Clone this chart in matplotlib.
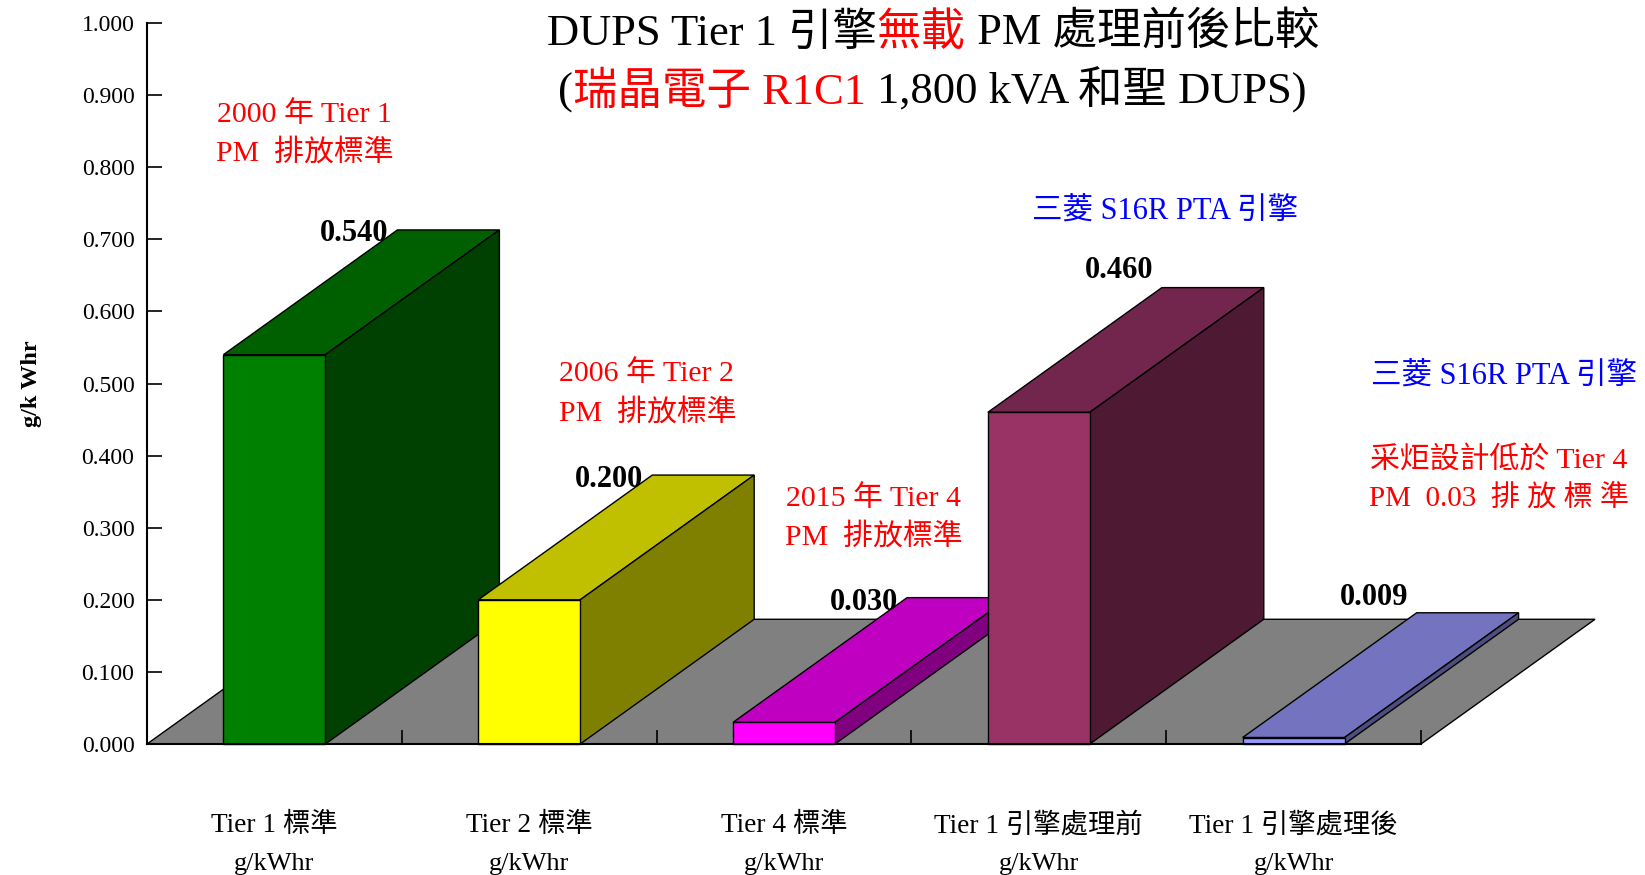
import matplotlib
matplotlib.use("Agg")
import matplotlib.pyplot as plt
from matplotlib.patches import Polygon

plt.rcParams['font.family'] = ['Liberation Serif', 'Noto Sans CJK TC', 'DejaVu Sans']

# data
values = [0.540, 0.200, 0.030, 0.460, 0.009]
value_labels = ["0.540", "0.200", "0.030", "0.460", "0.009"]
categories = ["Tier 1 標準", "Tier 2 標準", "Tier 4 標準", "Tier 1 引擎處理前", "Tier 1 引擎處理後"]
unit_label = "g/kWhr"
y_ticks = [0.0, 0.1, 0.2, 0.3, 0.4, 0.5, 0.6, 0.7, 0.8, 0.9, 1.0]
front_colors = ["#008000", "#ffff00", "#ff00ff", "#993366", "#9999ff"]
top_colors = ["#006000", "#c0c000", "#c000c0", "#73264d", "#7373bf"]
side_colors = ["#004000", "#808000", "#800080", "#4d1933", "#4d4d80"]

W, H = 1645, 875
S = 1645 / 1568   # reference was read at 1568 wide

fig = plt.figure(figsize=(W / 100, H / 100), dpi=100, facecolor="white")
ax = fig.add_axes([147 / W, (H - 744) / H, (1421 - 147) / W, (744 - 23) / H])
ax.set_xlim(0, 5)
ax.set_ylim(0, 1)

# 3d depth, in data units
dx = 0.683
dy = 0.173
bar_w = 0.4

# floor
ax.add_patch(Polygon([(0, 0), (5, 0), (5 + dx, dy), (dx, dy)], closed=True, fc="#808080",
                     ec="black", lw=1, clip_on=False, zorder=1))

# bars, left to right so the later ones cover the earlier ones
for i, v in enumerate(values):
    x0 = i + 0.5 - bar_w / 2
    x1 = x0 + bar_w
    z = 2 + i
    top = [(x0, v), (x1, v), (x1 + dx, v + dy), (x0 + dx, v + dy)]
    side = [(x1, 0), (x1 + dx, dy), (x1 + dx, v + dy), (x1, v)]
    front = [(x0, 0), (x1, 0), (x1, v), (x0, v)]
    for pts, col in [(top, top_colors[i]), (side, side_colors[i]), (front, front_colors[i])]:
        ax.add_patch(Polygon(pts, closed=True, fc=col, ec="black", lw=1, clip_on=False, zorder=z))

ax.spines['top'].set_visible(False)
ax.spines['right'].set_visible(False)
ax.spines['left'].set_linewidth(1.5)
ax.spines['bottom'].set_linewidth(1.5)
ax.spines['left'].set_zorder(20)
ax.spines['bottom'].set_zorder(20)
ax.set_yticks(y_ticks)
ax.set_yticklabels(["%.3f" % t for t in y_ticks], fontsize=17)
ax.set_xticks([1, 2, 3, 4, 5])
ax.set_xticklabels([])
ax.tick_params(axis='y', direction='in', length=11, width=1.2, pad=9)
ax.tick_params(axis='x', direction='in', length=10, width=1.2)


# everything below is placed in reference pixels (1568 wide picture)
def tx(x):
    return x * S / W


def ty(y):
    return 1 - y * S / H


def label(x, y, s, color="black", size=21.5, ha="left", **kw):
    return fig.text(tx(x), ty(y), s, color=color, fontsize=size, ha=ha, va="center", zorder=30, **kw)


def colored_line(x, y, parts, size):
    # pieces of one line in different colours, each starts where the last one stopped
    r = fig.canvas.get_renderer()
    px = x * S
    for s, col in parts:
        t = fig.text(px / W, ty(y), s, color=col, fontsize=size, ha="left", va="baseline", zorder=30)
        px = px + t.get_window_extent(r).width + (size * 0.32 if s.endswith(" ") else 0)


# value labels, placed off the back corner of each bar top
label_shift = [-3.5, -4, -5, 16, 15]
for i, v in enumerate(values):
    x0 = i + 0.5 - bar_w / 2 + dx
    px, py = ax.transData.transform((x0, v + dy))
    fig.text((px - 41 * S) / W, (py + label_shift[i] * S) / H,
             value_labels[i], fontsize=22, fontweight="bold", ha="center", va="center", zorder=30)

# category labels
for i, c in enumerate(categories):
    px, _ = ax.transData.transform((i + 0.5, 0))
    fig.text(px / W, ty(787), c, fontsize=19.7, ha="center", va="center")
    fig.text(px / W, ty(824), unit_label, fontsize=19, ha="center", va="center")

fig.text(tx(30), ty(366), "g/k Whr", fontsize=17.5, fontweight="bold", rotation=90, ha="center", va="center")

# title
colored_line(521, 43, [("DUPS Tier 1 引擎", "black"), ("無載", "red"), (" PM 處理前後比較", "black")], 32)
colored_line(532, 99, [("(", "black"), ("瑞晶電子 R1C1", "red"), (" 1,800 kVA 和聖 DUPS)", "black")], 32)

# notes
label(207, 109, "2000 年 Tier 1", "red")
label(206, 146, "PM  排放標準", "red")
label(533, 356, "2006 年 Tier 2", "red")
label(533, 393, "PM  排放標準", "red")
label(749, 475, "2015 年 Tier 4", "red")
label(748, 512, "PM  排放標準", "red")
label(984, 202, "三菱 S16R PTA 引擎", "blue", size=22)
label(1307, 359, "三菱 S16R PTA 引擎", "blue", size=22)
label(1306, 439, "采炬設計低於 Tier 4", "red")
label(1305, 475, "PM  0.03  排 放 標 準", "red", size=21)

fig.savefig("out.png", dpi=100, facecolor="white")
